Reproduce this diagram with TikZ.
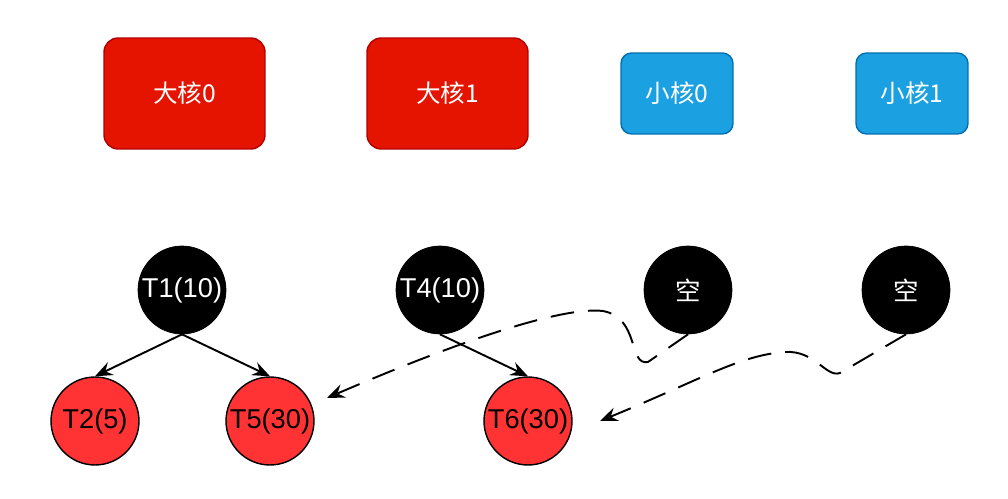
\documentclass[tikz,border=0pt]{standalone}
\usepackage{fontspec}
\setmainfont{Liberation Sans}
\newfontfamily\cjk{Noto Sans CJK SC}
\usepackage{tikz}
\usetikzlibrary{arrows.meta, positioning}
\definecolor{bigcore}{HTML}{E51400}
\definecolor{bigcoreline}{HTML}{B20000}
\definecolor{littlecore}{HTML}{1BA1E2}
\definecolor{littlecoreline}{HTML}{006EAF}
\definecolor{task}{HTML}{FF3333}

\begin{document}
\begin{tikzpicture}[
        x=0.02cm, y=-0.02cm,
        big/.style={rectangle, draw=bigcoreline, fill=bigcore, line width=0.8pt,
            rounded corners=8pt, minimum width=3.22cm, minimum height=2.22cm,
            text=white, font=\cjk\fontsize{14}{16}\selectfont},
        little/.style={rectangle, draw=littlecoreline, fill=littlecore, line width=0.8pt,
            rounded corners=6pt, minimum width=2.24cm, minimum height=1.62cm,
            text=white, font=\cjk\fontsize{14}{16}\selectfont},
        busy/.style={circle, draw=black, fill=black, minimum size=1.76cm, inner sep=0pt,
            text=white, font=\fontsize{15.5}{17}\selectfont},
        idle/.style={busy, font=\cjk\fontsize{14.5}{16}\selectfont},
        waiting/.style={circle, draw=black, fill=task, line width=0.8pt, minimum size=1.76cm,
            inner sep=0pt, font=\fontsize{15.5}{17}\selectfont},
        arrow/.style={-{Stealth[length=10pt, width=8pt, inset=3.5pt]}, line width=1.1pt},
        steal/.style={arrow, dash pattern=on 13.5pt off 8pt}
        ]
        \useasboundingbox (0,0) rectangle (1008,499);

        % cores
        \node[big] (big0) at (184.5,93.5) {大核0};
        \node[big] (big1) at (447.5,93.5) {大核1};
        \node[little] (little0) at (677,93.5) {小核0};
        \node[little] (little1) at (912,93.5) {小核1};

        % run queues
        \node[busy] (t1) at (182,290) {T1(10)};
        \node[busy] (t4) at (440,290) {T4(10)};
        \node[idle] (kong0) at (688,290) {空};
        \node[idle] (kong1) at (906,290) {空};
        \node[waiting] (t2) at (95,421) {T2(5)};
        \node[waiting] (t5) at (270,421) {T5(30)};
        \node[waiting] (t6) at (528,421) {T6(30)};

        \coordinate (stealT5) at (327,398);
        \coordinate (stealT6) at (600,421);

        \draw[arrow] (t1.south) -- (t2.north);
        \draw[arrow] (t1.south) -- (t5.north);
        \draw[arrow] (t4.south) -- (t6.north);

        \draw[steal] (kong0.south) -- (648,362)
            .. controls (628,366) and (640,318) .. (603,311)
            .. controls (560,306) and (450,345) .. (stealT5);
        \draw[steal] (kong1.south) -- (840,373)
            .. controls (826,378) and (815,350) .. (785,352)
            .. controls (740,355) and (700,380) .. (stealT6);
    \end{tikzpicture}
\end{document}
